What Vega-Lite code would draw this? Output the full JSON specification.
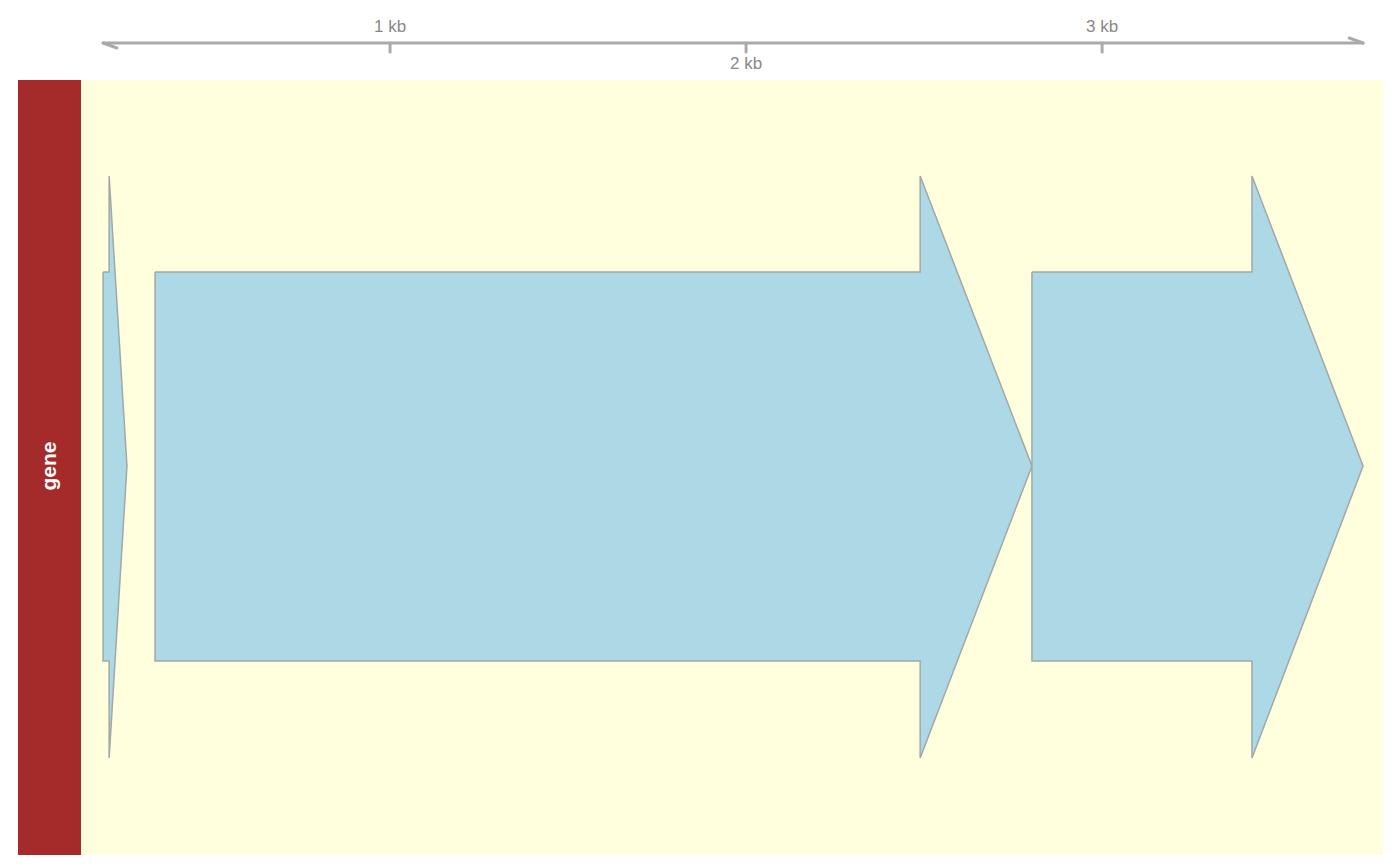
{
  "$schema": "https://vega.github.io/schema/vega-lite/v6.json",
  "width": 1365,
  "height": 855,
  "autosize": "none",
  "padding": {"left": 18, "top": 0, "right": 0, "bottom": 0},
  "background": "white",
  "config": {"view": {"stroke": null}, "font": "Liberation Sans"},
  "x": null,
  "layer": [
    {
      "data": {"values": [
        {"kind": "panel", "x": 132, "x2": 3789, "y": -389, "y2": 386},
        {"kind": "strip", "x": -45, "x2": 132, "y": -389, "y2": 386}
      ]},
      "mark": {"type": "rect"},
      "encoding": {
        "x": {"field": "x", "type": "quantitative", "scale": {"domain": [-45, 3789], "nice": false, "zero": false}, "axis": null},
        "x2": {"field": "x2"},
        "y": {"field": "y", "type": "quantitative", "scale": {"domain": [-389, 466], "nice": false, "zero": false}, "axis": null},
        "y2": {"field": "y2"},
        "color": {"field": "kind", "type": "nominal", "scale": {"domain": ["panel", "strip"], "range": ["#ffffdd", "#a52a2a"]}, "legend": null}
      }
    },
    {
      "data": {"values": [{"label": "gene", "x": 43.5, "y": 0}]},
      "mark": {"type": "text", "angle": 270, "color": "white", "fontWeight": "bold", "fontSize": 21},
      "encoding": {
        "x": {"field": "x", "type": "quantitative"},
        "y": {"field": "y", "type": "quantitative"},
        "text": {"field": "label"}
      }
    },
    {
      "data": {"values": [
        {"g": "a", "o": 1, "x": 194, "y": 194}, {"g": "a", "o": 2, "x": 211, "y": 194}, {"g": "a", "o": 3, "x": 211, "y": 290},
        {"g": "a", "o": 4, "x": 261, "y": 0}, {"g": "a", "o": 5, "x": 211, "y": -292}, {"g": "a", "o": 6, "x": 211, "y": -195},
        {"g": "a", "o": 7, "x": 194, "y": -195}, {"g": "a", "o": 8, "x": 194, "y": 194},
        {"g": "b", "o": 1, "x": 340, "y": 194}, {"g": "b", "o": 2, "x": 2489, "y": 194}, {"g": "b", "o": 3, "x": 2489, "y": 290},
        {"g": "b", "o": 4, "x": 2803, "y": 0}, {"g": "b", "o": 5, "x": 2489, "y": -292}, {"g": "b", "o": 6, "x": 2489, "y": -195},
        {"g": "b", "o": 7, "x": 340, "y": -195}, {"g": "b", "o": 8, "x": 340, "y": 194},
        {"g": "c", "o": 1, "x": 2803, "y": 194}, {"g": "c", "o": 2, "x": 3421, "y": 194}, {"g": "c", "o": 3, "x": 3421, "y": 290},
        {"g": "c", "o": 4, "x": 3733, "y": 0}, {"g": "c", "o": 5, "x": 3421, "y": -292}, {"g": "c", "o": 6, "x": 3421, "y": -195},
        {"g": "c", "o": 7, "x": 2803, "y": -195}, {"g": "c", "o": 8, "x": 2803, "y": 194}
      ]},
      "mark": {"type": "line", "fill": "#add8e6", "stroke": "#a0a8a8", "strokeWidth": 1.5},
      "encoding": {
        "x": {"field": "x", "type": "quantitative"},
        "y": {"field": "y", "type": "quantitative"},
        "detail": {"field": "g"},
        "order": {"field": "o"}
      }
    },
    {
      "data": {"values": [
        {"x": 194, "x2": 3733, "y": 423, "y2": 423},
        {"x": 3733, "x2": 3694, "y": 423, "y2": 428},
        {"x": 194, "x2": 233, "y": 423, "y2": 418},
        {"x": 1000, "x2": 1000, "y": 423, "y2": 414},
        {"x": 2000, "x2": 2000, "y": 423, "y2": 414},
        {"x": 3000, "x2": 3000, "y": 423, "y2": 414}
      ]},
      "mark": {"type": "rule", "color": "#aaaaaa", "strokeWidth": 3, "strokeCap": "round"},
      "encoding": {
        "x": {"field": "x", "type": "quantitative"},
        "x2": {"field": "x2"},
        "y": {"field": "y", "type": "quantitative"},
        "y2": {"field": "y2"}
      }
    },
    {
      "data": {"values": [
        {"label": "1 kb", "x": 1000, "y": 439},
        {"label": "2 kb", "x": 2000, "y": 402},
        {"label": "3 kb", "x": 3000, "y": 439}
      ]},
      "mark": {"type": "text", "color": "#888888", "fontSize": 17},
      "encoding": {
        "x": {"field": "x", "type": "quantitative"},
        "y": {"field": "y", "type": "quantitative"},
        "text": {"field": "label"}
      }
    }
  ]
}
